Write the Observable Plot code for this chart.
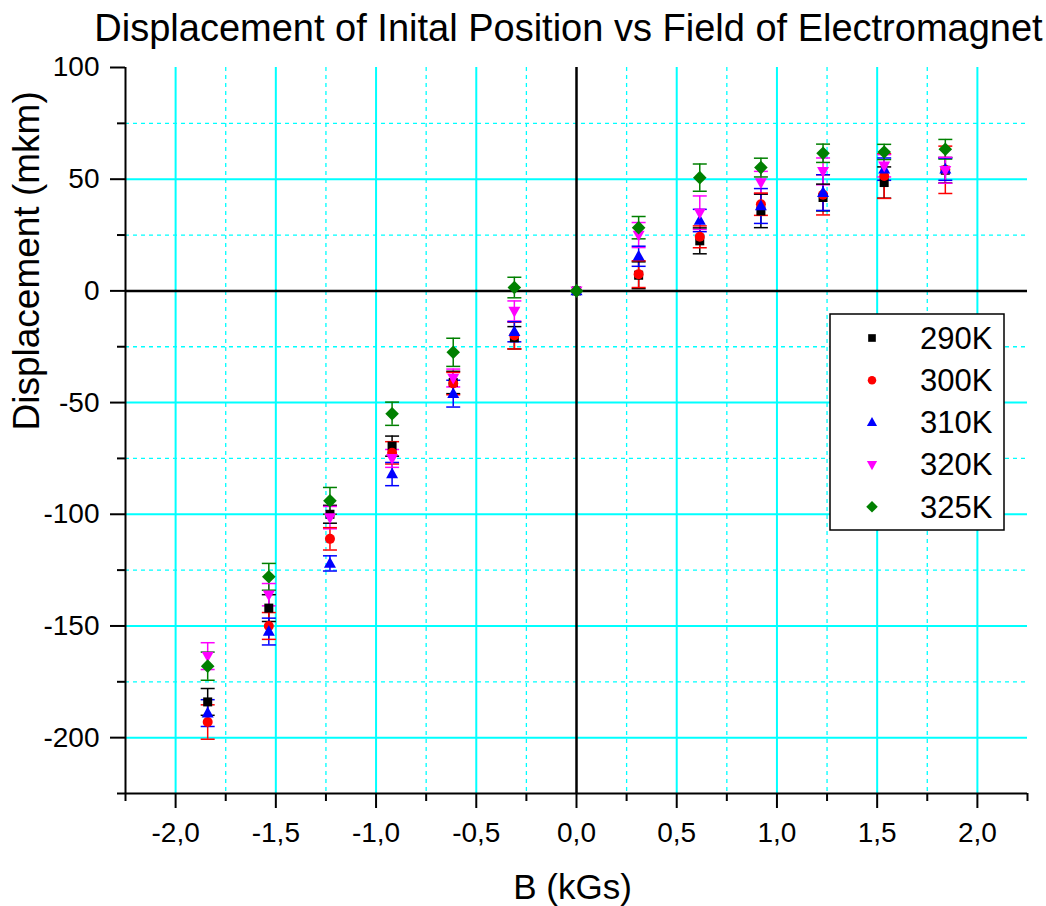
<!DOCTYPE html>
<html>
<head>
<meta charset="utf-8">
<script src="https://cdn.jsdelivr.net/npm/d3@7"></script>
<script src="https://cdn.jsdelivr.net/npm/@observablehq/plot@0.6"></script>
<style>
  html, body { margin: 0; padding: 0; background: #fff; }
  #chart { position: relative; width: 1046px; height: 906px; }
</style>
</head>
<body>
<div id="chart"></div>
<script>
// ---- data ----
const B = [-1.84, -1.535, -1.23, -0.92, -0.615, -0.31, 0, 0.31, 0.615, 0.92, 1.23, 1.535, 1.84];
const seriesNames = ["290K", "300K", "310K", "320K", "325K"];
const seriesColors = ["#000000", "#ff0000", "#0000ff", "#ff00ff", "#008000"];

const v290 = [-184, -142, -100, -69.5, -41, -21, 0, 7, 22.4, 35.8, 41.8, 48.5, 54];
const e290 = [6, 6, 4, 4.5, 5, 5, 0, 6, 5.8, 7.5, 6, 7, 5.7];
const v300 = [-193, -150, -111, -72.5, -41.5, -20, 0, 7.5, 24.2, 38.8, 43, 51.4, 54.2];
const e300 = [7.7, 6, 5, 5, 5, 6, 0, 6, 4.9, 5, 9, 10, 10.6];
const v310 = [-189, -152.5, -122, -82, -46, -18.3, 0, 15.5, 31.5, 38, 44, 54.5, 54.5];
const e310 = [6, 6, 3.4, 5.2, 6, 4.5, 0, 4.5, 5, 7.8, 8, 5, 5];
const v320 = [-163.5, -136, -101.5, -75, -39, -9, 0, 25, 35, 48.5, 53.5, 56, 54];
const e320 = [6, 5, 5, 4, 4, 4.5, 0, 5.6, 7.5, 5, 6, 5, 5.8];
const v325 = [-168, -128, -94, -55, -27.5, 1.5, 0, 28.3, 50.7, 55.2, 61.6, 62.2, 63.4];
const e325 = [6.3, 6, 6, 5.2, 6.3, 4.6, 0, 5, 6.1, 4.2, 4.1, 3.4, 4.4];

const xMajor = [-2, -1.5, -1, -0.5, 0, 0.5, 1, 1.5, 2];
const xMinor = [-2.25, -1.75, -1.25, -0.75, -0.25, 0.25, 0.75, 1.25, 1.75, 2.25];
const yMajor = [-200, -150, -100, -50, 0, 50, 100];
const yMinor = [-225, -175, -125, -75, -25, 25, 75];

const titleText = "Displacement of Inital Position vs Field of Electromagnet";
const xLabel = "B (kGs)";
const yLabel = "Displacement (mkm)";

// ---- build table ----
const values = [v290, v300, v310, v320, v325];
const errors = [e290, e300, e310, e320, e325];
const rows = [];
seriesNames.forEach((s, i) => {
  B.forEach((b, j) => rows.push({series: s, B: b, v: values[i][j], e: errors[i][j]}));
});
const errRows = rows.filter(d => d.e > 0);

// ---- symbols ----
const symSquare = {draw(c) { c.rect(-4.5, -4.5, 9, 9); }};
const symCircle = {draw(c) { c.moveTo(5, 0); c.arc(0, 0, 5, 0, 2 * Math.PI); }};
const symTriUp = {draw(c) { c.moveTo(0, -6.5); c.lineTo(6, 4.3); c.lineTo(-6, 4.3); c.closePath(); }};
const symTriDown = {draw(c) { c.moveTo(0, 6.5); c.lineTo(6, -4.3); c.lineTo(-6, -4.3); c.closePath(); }};
const symDiamond = {draw(c) { c.moveTo(0, -6.8); c.lineTo(6.8, 0); c.lineTo(0, 6.8); c.lineTo(-6.8, 0); c.closePath(); }};
const symCap = {draw(c) { c.moveTo(-7, 0); c.lineTo(7, 0); }};
const seriesSymbols = [symSquare, symCircle, symTriUp, symTriDown, symDiamond];

const fmtX = d => d.toFixed(1).replace(".", ",");
const fmtY = d => String(d);
const cyan = "#00ffff";
const font = "'Liberation Sans', Arial, Helvetica, sans-serif";

const plot = Plot.plot({
  width: 1046,
  height: 906,
  marginLeft: 125,
  marginRight: 19,
  marginTop: 67,
  marginBottom: 113,
  style: {fontFamily: font, fontSize: "28px", background: "#fff", color: "#000"},
  x: {domain: [-2.25, 2.25]},
  y: {domain: [-225, 100]},
  color: {domain: seriesNames, range: seriesColors},
  symbol: {domain: seriesNames, range: seriesSymbols},
  marks: [
    // grid
    Plot.ruleX(xMinor.filter(d => Math.abs(d) < 2.25), {stroke: cyan, strokeWidth: 1.3, strokeDasharray: "4,4"}),
    Plot.ruleY(yMinor.filter(d => d > -225), {stroke: cyan, strokeWidth: 1.3, strokeDasharray: "4,4"}),
    Plot.ruleX(xMajor.filter(d => d !== 0), {stroke: cyan, strokeWidth: 2}),
    Plot.ruleY(yMajor.filter(d => d !== 0 && d < 100), {stroke: cyan, strokeWidth: 2}),
    // zero lines
    Plot.ruleX([0], {stroke: "#000", strokeWidth: 2.5}),
    Plot.ruleY([0], {stroke: "#000", strokeWidth: 2.5}),
    // axis lines
    Plot.ruleX([-2.25], {stroke: "#000", strokeWidth: 2}),
    Plot.ruleY([-225], {stroke: "#000", strokeWidth: 2}),
    // axes
    Plot.axisX(xMajor, {tickSize: 15, tickPadding: 14, tickFormat: fmtX, fontSize: 28, strokeWidth: 2, label: null}),
    Plot.axisX(xMinor, {tickSize: 8, tickFormat: () => "", strokeWidth: 2, label: null}),
    Plot.axisY(yMajor, {tickSize: 15, tickPadding: 11, tickFormat: fmtY, fontSize: 28, strokeWidth: 2, label: null}),
    Plot.axisY(yMinor, {tickSize: 8, tickFormat: () => "", strokeWidth: 2, label: null}),
    // error bars
    Plot.ruleX(errRows, {x: "B", y1: d => d.v - d.e, y2: d => d.v + d.e, stroke: "series", strokeWidth: 1.5}),
    Plot.dot(errRows, {x: "B", y: d => d.v - d.e, symbol: symCap, stroke: "series", fill: "none", strokeWidth: 1.5}),
    Plot.dot(errRows, {x: "B", y: d => d.v + d.e, symbol: symCap, stroke: "series", fill: "none", strokeWidth: 1.5}),
    // markers
    Plot.dot(rows, {x: "B", y: "v", symbol: "series", fill: "series", stroke: "none"}),
    // texts
    Plot.text([titleText], {frameAnchor: "top", dx: -8, dy: -39, fontSize: 38, lineAnchor: "middle"}),
    Plot.text([xLabel], {frameAnchor: "bottom", dx: -4, dy: 94, fontSize: 35, lineAnchor: "middle"}),
    Plot.text([yLabel], {frameAnchor: "left", dx: -98, fontSize: 37, rotate: -90, lineAnchor: "middle"})
  ]
});

document.getElementById("chart").appendChild(plot);

// ---- legend (inside plot area, top-right) ----
const svg = d3.select(plot.tagName.toLowerCase() === "svg" ? plot : plot.querySelector("svg"));
const lg = svg.append("g").attr("font-family", font).attr("text-anchor", "start");
lg.append("rect").attr("x", 830).attr("y", 314).attr("width", 174).attr("height", 216)
  .attr("fill", "#fff").attr("stroke", "#000").attr("stroke-width", 1.5);
seriesNames.forEach((s, i) => {
  const cy = 338 + i * 42.2;
  const p = d3.path();
  seriesSymbols[i].draw(p);
  lg.append("path").attr("d", p.toString()).attr("transform", `translate(872,${cy}) scale(0.85)`).attr("fill", seriesColors[i]);
  lg.append("text").attr("x", 920).attr("y", cy).attr("dy", "0.35em").attr("font-size", 31)
    .attr("text-anchor", "start").attr("fill", "#000").text(s);
});
</script>
</body>
</html>
